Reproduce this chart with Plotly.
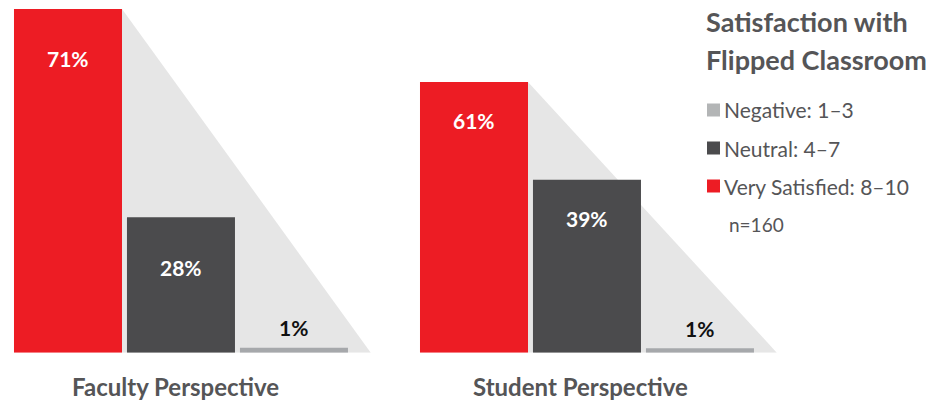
import plotly.graph_objects as go

# ---- data ----
categories = ["Very Satisfied: 8–10", "Neutral: 4–7", "Negative: 1–3"]
faculty_values = [71, 28, 1]
student_values = [61, 39, 1]
panel_titles = ["Faculty Perspective", "Student Perspective"]
legend_title_lines = ["Satisfaction with", "Flipped Classroom"]
legend_order = ["Negative: 1–3", "Neutral: 4–7", "Very Satisfied: 8–10"]
sample_note = "n=160"

bar_colors = ["#ED1C24", "#4B4B4D", "#A6A8AB"]
legend_colors = {"Negative: 1–3": "#B3B5B6", "Neutral: 4–7": "#4B4B4D",
                 "Very Satisfied: 8–10": "#ED1C24"}
TEXT_GRAY = "#555557"
FONT = "Lato"

W, H = 940, 402
fig = go.Figure()

panels = [
    dict(values=faculty_values, xa="x", ya="y", dom=[11.5 / W, 378.7 / W],
         yrange=[0, 71], inner_shift=-50, title_x=175.5 / W),
    dict(values=student_values, xa="x2", ya="y2", dom=[417.5 / W, 784.7 / W],
         yrange=[0, 77.45], inner_shift=-39, title_x=580.7 / W),
]
ydom = [(H - 352.7) / H, (H - 9) / H]
bar_w = 0.956
xpos = list(range(len(categories)))

annotations = []
shapes = []
for i, p in enumerate(panels):
    vals = p["values"]
    # background triangle from top-right of first bar down past last bar
    x_left = xpos[0] + bar_w / 2
    x_right = xpos[-1] + 0.68
    shapes.append(dict(
        type="path", xref=p["xa"], yref=p["ya"], layer="below",
        path=f"M {x_left} {vals[0]} L {x_right} 0 L {x_left} 0 Z",
        fillcolor="#E6E6E6", line=dict(width=0)))
    fig.add_trace(go.Bar(
        x=xpos, y=vals, width=bar_w, marker=dict(color=bar_colors, line=dict(width=0)),
        showlegend=False, xaxis=p["xa"], yaxis=p["ya"], hoverinfo="skip"))
    for j, v in enumerate(vals):
        big = j < 2
        annotations.append(dict(
            x=xpos[j], y=v, xref=p["xa"], yref=p["ya"], text=f"<b>{v}%</b>",
            showarrow=False, yanchor="middle",
            yshift=p["inner_shift"] if big else 20,
            font=dict(family=FONT, size=21, color="white" if big else "#111111")))
    annotations.append(dict(
        x=p["title_x"], y=(H - 386) / H, xref="paper", yref="paper",
        text=f"<b>{panel_titles[i]}</b>", showarrow=False,
        xanchor="center", yanchor="middle",
        font=dict(family=FONT, size=24, color=TEXT_GRAY)))

# legend block (manual)
for line, yc in zip(legend_title_lines, [21, 59]):
    annotations.append(dict(
        x=704 / W, y=(H - yc) / H, xref="paper", yref="paper", text=f"<b>{line}</b>",
        showarrow=False, xanchor="left", yanchor="middle", align="left",
        font=dict(family=FONT, size=27, color=TEXT_GRAY)))

item_y = [110, 148, 186]
for name, yc in zip(legend_order, item_y):
    shapes.append(dict(type="rect", xref="paper", yref="paper",
                       x0=707 / W, x1=720 / W, y0=(H - yc - 6.5) / H, y1=(H - yc + 6.5) / H,
                       fillcolor=legend_colors[name], line=dict(width=0)))
    annotations.append(dict(
        x=722 / W, y=(H - yc) / H, xref="paper", yref="paper", text=name,
        showarrow=False, xanchor="left", yanchor="middle",
        font=dict(family=FONT, size=21, color=TEXT_GRAY)))
annotations.append(dict(
    x=727 / W, y=(H - 224) / H, xref="paper", yref="paper", text=sample_note,
    showarrow=False, xanchor="left", yanchor="middle",
    font=dict(family=FONT, size=19, color=TEXT_GRAY)))

axis_common = dict(visible=False, fixedrange=True)
fig.update_layout(
    width=W, height=H, margin=dict(l=0, r=0, t=0, b=0),
    paper_bgcolor="white", plot_bgcolor="rgba(0,0,0,0)",
    xaxis=dict(domain=panels[0]["dom"], range=[-0.5, 2.75], **axis_common),
    xaxis2=dict(domain=panels[1]["dom"], range=[-0.5, 2.75], anchor="y2", **axis_common),
    yaxis=dict(domain=ydom, range=panels[0]["yrange"], **axis_common),
    yaxis2=dict(domain=ydom, range=panels[1]["yrange"], anchor="x2", **axis_common),
    annotations=annotations, shapes=shapes, showlegend=False,
    font=dict(family=FONT),
)

fig.write_html("out.html", config={"displayModeBar": False},
               post_script="document.body.style.margin='0';document.body.style.overflow='hidden';")
